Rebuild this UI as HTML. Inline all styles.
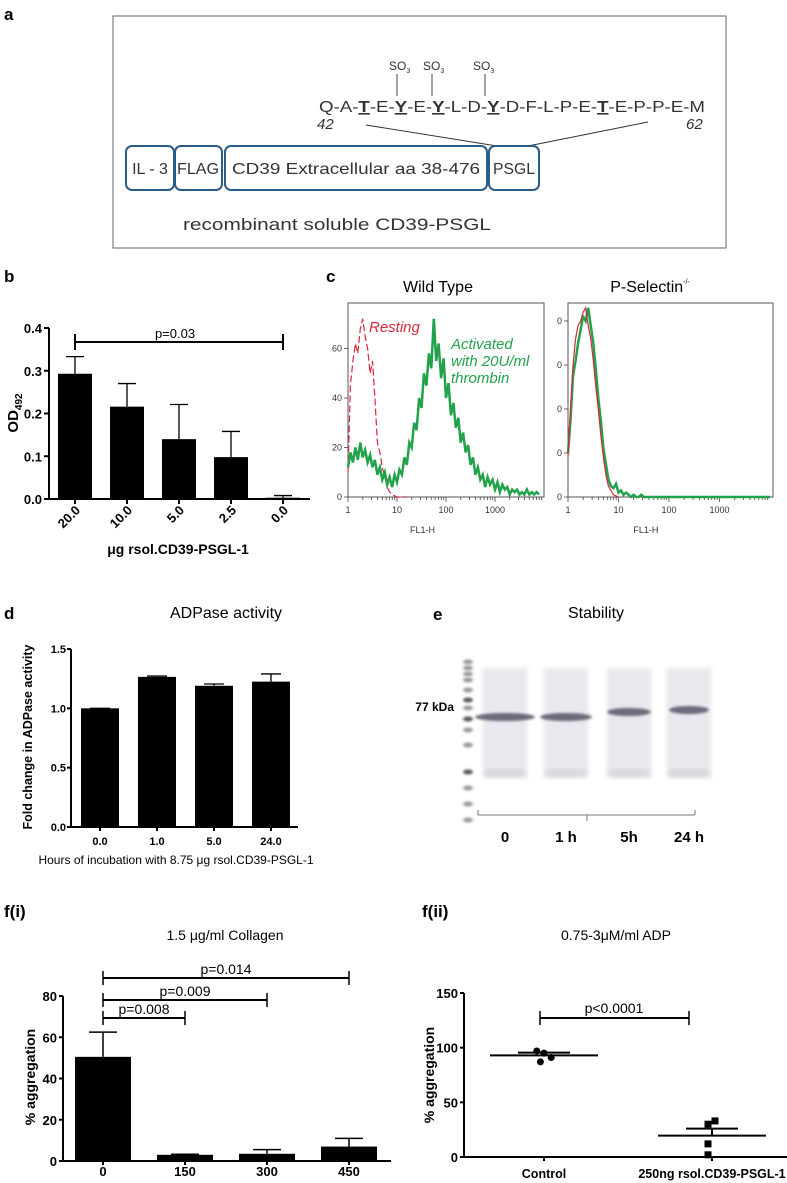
<!DOCTYPE html>
<html><head><meta charset="utf-8"><style>
html,body{margin:0;padding:0;background:#fff}
svg{display:block;font-family:"Liberation Sans",sans-serif}
</style></head><body>
<svg id="fig" width="787" height="1183" viewBox="0 0 787 1183" xmlns="http://www.w3.org/2000/svg">
<defs><filter id="blur" x="-50%" y="-50%" width="200%" height="200%"><feGaussianBlur stdDeviation="2.5"/></filter>
<filter id="blur2" x="-50%" y="-50%" width="200%" height="200%"><feGaussianBlur stdDeviation="1.2"/></filter></defs>
<!-- Panel a -->
<g>
<text x="4" y="20" font-size="17" font-weight="bold">a</text>
<rect x="113" y="16" width="613" height="232" fill="none" stroke="#666" stroke-width="1"/>
<g font-size="12" fill="#333">
<text x="389" y="70">SO<tspan font-size="7" dy="3">3</tspan></text>
<text x="423" y="70">SO<tspan font-size="7" dy="3">3</tspan></text>
<text x="473" y="70">SO<tspan font-size="7" dy="3">3</tspan></text>
</g>
<g stroke="#444" stroke-width="1"><line x1="397" y1="74" x2="397" y2="96"/><line x1="432" y1="74" x2="432" y2="96"/><line x1="485" y1="74" x2="485" y2="96"/></g>
<text x="319" y="112" font-size="16" fill="#333" textLength="386" lengthAdjust="spacingAndGlyphs">Q-A-<tspan font-weight="bold" text-decoration="underline">T</tspan>-E-<tspan font-weight="bold" text-decoration="underline">Y</tspan>-E-<tspan font-weight="bold" text-decoration="underline">Y</tspan>-L-D-<tspan font-weight="bold" text-decoration="underline">Y</tspan>-D-F-L-P-E-<tspan font-weight="bold" text-decoration="underline">T</tspan>-E-P-P-E-M</text>
<text x="317" y="129" font-size="15" font-style="italic" fill="#333">42</text>
<text x="686" y="129" font-size="15" font-style="italic" fill="#333">62</text>
<g stroke="#333" stroke-width="1"><line x1="366" y1="125" x2="497" y2="146"/><line x1="648" y1="122" x2="528" y2="146"/></g>
<g fill="none" stroke="#2b5b87" stroke-width="2">
<rect x="126" y="146" width="48" height="44" rx="6"/>
<rect x="175" y="146" width="47" height="44" rx="6"/>
<rect x="225" y="146" width="262" height="44" rx="6"/>
<rect x="489" y="146" width="50" height="44" rx="6"/>
</g>
<g font-size="16" fill="#333">
<text x="150" y="174" text-anchor="middle">IL - 3</text>
<text x="198" y="174" text-anchor="middle" textLength="42" lengthAdjust="spacingAndGlyphs">FLAG</text>
<text x="356" y="174" text-anchor="middle" textLength="248" lengthAdjust="spacingAndGlyphs">CD39 Extracellular  aa 38-476</text>
<text x="514" y="174" text-anchor="middle" textLength="42" lengthAdjust="spacingAndGlyphs">PSGL</text>
<text x="183" y="230" font-size="17" textLength="308" lengthAdjust="spacingAndGlyphs">recombinant soluble CD39-PSGL</text>
</g>
</g>
<!-- labels -->
<text x="4" y="282" font-size="17" font-weight="bold">b</text>
<text x="326" y="282" font-size="17" font-weight="bold">c</text>
<text x="438" y="292" font-size="16" text-anchor="middle">Wild Type</text>
<text x="650" y="292" font-size="16" text-anchor="middle">P-Selectin<tspan font-size="7" dy="-8">-/-</tspan></text>
<text x="4" y="619" font-size="17" font-weight="bold">d</text>
<text x="226" y="618" font-size="16" text-anchor="middle">ADPase activity</text>
<text x="433" y="620" font-size="17" font-weight="bold">e</text>
<text x="596" y="618" font-size="16" text-anchor="middle">Stability</text>
<text x="4" y="917" font-size="17" font-weight="bold">f(i)</text>
<text x="422" y="917" font-size="17" font-weight="bold">f(ii)</text>
<text x="225" y="940" font-size="14" text-anchor="middle">1.5 μg/ml Collagen</text>
<text x="616" y="940" font-size="14" text-anchor="middle">0.75-3μM/ml ADP</text>
<g id="dyn"></g>
</svg>
<script>
// ---- data ----
const bCats = ["20.0","10.0","5.0","2.5","0.0"];
const bVals = [0.293,0.216,0.140,0.098,0.003];
const bErr = [0.333,0.270,0.221,0.158,0.008];
const bTicks = [0,0.1,0.2,0.3,0.4];
const wtGreen = [12,18,14,20,15,22,16,19,14,17,12,15,9,12,7,10,5,8,4,9,6,11,9,16,13,22,20,30,27,40,36,50,45,58,52,72,55,62,48,56,40,46,33,38,28,32,22,26,18,21,13,16,9,12,7,9,4,8,5,7,3,6,2,5,3,4,1,3,2,3,1,2,1,3,1,2,1,2,1];
const wtRed = [10,45,55,62,58,68,72,65,60,50,55,40,22,18,12,8,4,2,1,0.5,0,0,0,0,0];
const psGreen = [20,35,55,62,70,76,82,80,86,78,70,58,45,35,22,15,8,5,4,6,2,3,1,2,1,0,1,0,0,1,0,0,0,0,0,0,0,0,0,0,0,0,0,0,0,0,0,0,0,0,0,0,0,0,0,0,0,0,0,0,0,0,0,0,0,0,0,0,0,0,0,0,0,0,0,0,0,0,0,0,0];
const psRed = [18,40,60,72,78,80,84,86,78,72,62,50,40,28,18,10,5,3,1,0.5,0];
const flowTicksY = [0,20,40,60];
const flowTicksX = ["1","10","100","1000"];
const dCats = ["0.0","1.0","5.0","24.0"];
const dVals = [1.0,1.265,1.19,1.225];
const dErr = [1.0,1.272,1.205,1.29];
const dTicks = [0,0.5,1.0,1.5];
const gelLanes = ["0","1 h","5h","24 h"];
const fiCats = ["0","150","300","450"];
const fiVals = [50.5,3,3.5,7];
const fiErr = [62.5,3.3,5.5,11];
const fiTicks = [0,20,40,60,80];
const fiiCats = ["Control","250ng rsol.CD39-PSGL-1"];
const fiiCtrl = [97,95,91,87];
const fiiTreat = [33,30,12,2];
const fiiMean = [93,19.5];
const fiiSem = [95.5,26];
const fiiTicks = [0,50,100,150];

const NS="http://www.w3.org/2000/svg";
const root=document.getElementById('dyn');
function mk(tag,a,parent){const e=document.createElementNS(NS,tag);for(const k in a)e.setAttribute(k,a[k]);(parent||root).appendChild(e);return e;}
function txt(s,a,parent){const e=mk('text',a,parent);e.textContent=s;return e;}

// ---- Panel b ----
(function(){
 const y=v=>499-v/0.4*171, x0=49, xr=310, step=52, first=75;
 const xc=i=>first+i*step;
 let e=mk('line',{x1:x0,y1:499,x2:xr,y2:499,stroke:'#000','stroke-width':2});
 
 
 e=mk('line',{x1:x0,y1:y(0.4),x2:x0,y2:500,stroke:'#000','stroke-width':2});
 
 
 bTicks.forEach(t=>{mk('line',{x1:x0-5,y1:y(t),x2:x0,y2:y(t),stroke:'#000','stroke-width':2});
  const l=txt(t.toFixed(1),{x:x0-7,y:y(t)+5,'font-size':13,'font-weight':'bold','text-anchor':'end'});
  
  });
 bCats.forEach((c,i)=>{
  const b=mk('rect',{x:xc(i)-17,y:y(bVals[i]),width:34,height:499-y(bVals[i]),fill:'#000'});
  
  
  mk('line',{x1:xc(i),y1:y(bVals[i]),x2:xc(i),y2:y(bErr[i]),stroke:'#000','stroke-width':1.3});
  mk('line',{x1:xc(i)-9,y1:y(bErr[i]),x2:xc(i)+9,y2:y(bErr[i]),stroke:'#000','stroke-width':1.3});
  mk('line',{x1:xc(i),y1:499,x2:xc(i),y2:504,stroke:'#000','stroke-width':2});
  const l=txt(c,{x:xc(i)+6,y:511,'font-size':13,'font-weight':'bold','text-anchor':'end',transform:`rotate(-45 ${xc(i)+6} 511)`});
  
  
 });
 mk('line',{x1:xc(0),y1:342,x2:xc(4),y2:342,stroke:'#000','stroke-width':2});
 mk('line',{x1:xc(0),y1:334,x2:xc(0),y2:350,stroke:'#000','stroke-width':2});
 mk('line',{x1:xc(4),y1:334,x2:xc(4),y2:350,stroke:'#000','stroke-width':2});
 e=txt('p=0.03',{x:175,y:338,'font-size':13,'text-anchor':'middle'});
 
 
 e=txt('μg rsol.CD39-PSGL-1',{x:178,y:554,'font-size':14,'font-weight':'bold','text-anchor':'middle'});
 
 
 e=mk('text',{x:0,y:0,'font-size':15,'font-weight':'bold','text-anchor':'middle',transform:'translate(18 413) rotate(-90)'});
 e.innerHTML='OD<tspan font-size="10" dy="4">492</tspan>';
 
 
})();

// ---- Panel c ----
function flowPlot(L,R,perDec,yPer20,series,ticksLab,name){
 const top=303,bot=497;
 const g=mk('g',{});
 
 
 mk('rect',{x:L,y:top,width:R-L,height:bot-top,fill:'none',stroke:'#555','stroke-width':1},g);
 const X=lg=>L+lg*perDec, Y=v=>bot-v/20*yPer20;
 for(let d=0;d<4;d++){for(let k=1;k<10;k++){const xx=X(d+Math.log10(k));if(xx>R)break;mk('line',{x1:xx,y1:bot,x2:xx,y2:bot+(k==1?5:3),stroke:'#444','stroke-width':0.8},g);}}
 flowTicksX.forEach((t,i)=>{const l=txt(t,{x:X(i),y:513,'font-size':9,'text-anchor':'middle',fill:'#333'},g);
  
  });
 flowTicksY.concat([80]).forEach((t,i)=>{if(Y(t)<top)return;mk('line',{x1:L-4,y1:Y(t),x2:L,y2:Y(t),stroke:'#444','stroke-width':0.8},g);
  const l=txt(ticksLab?String(t):'0',{x:L-6,y:Y(t)+3,'font-size':9,'text-anchor':'end',fill:'#333'},g);
  
  });
 series.forEach(s=>{
  const pts=s.v.map((v,i)=>X(i*0.05).toFixed(1)+','+Y(v).toFixed(1)).join(' ');
  const p=mk('polyline',{points:pts,fill:'none',stroke:s.c,'stroke-width':s.w,'stroke-dasharray':s.d||'none'},g);
  
  
 });
 const t=txt('FL1-H',{x:(L+R)/2-(R-L)*0.12,y:533,'font-size':9,'text-anchor':'middle',fill:'#333'},g);
 
 
}
flowPlot(348,544,49,49.5,[{v:wtRed,c:'#d8283c',w:1.2,d:'7 3',n:'resting-curve'},{v:wtGreen,c:'#22a24a',w:2.5,n:'activated-curve'}],true,'wild-type-histogram');
flowPlot(568,773,50.5,44,[{v:psGreen,c:'#22a24a',w:2.5,n:'ps-activated-curve'},{v:psRed,c:'#d8283c',w:1.2,n:'ps-resting-curve'}],false,'pselectin-histogram');
(function(){
 let e=txt('Resting',{x:369,y:332,'font-size':15,'font-style':'italic',fill:'#d8283c'});
 
 
 [['Activated',349],['with 20U/ml',366],['thrombin',383]].forEach(a=>{
  const l=txt(a[0],{x:451,y:a[1],'font-size':15,'font-style':'italic',fill:'#22a24a'});
  
  });
})();

// ---- Panel d ----
(function(){
 const x0=71,bot=827,y=v=>bot-v/1.5*178, step=57, first=100;
 const xc=i=>first+i*step;
 let e=mk('line',{x1:x0,y1:bot,x2:298,y2:bot,stroke:'#000','stroke-width':2});
 
 
 e=mk('line',{x1:x0,y1:y(1.5),x2:x0,y2:bot,stroke:'#000','stroke-width':2});
 
 
 dTicks.forEach(t=>{mk('line',{x1:x0-4,y1:y(t),x2:x0,y2:y(t),stroke:'#000','stroke-width':2});
  const l=txt(t.toFixed(1),{x:x0-5,y:y(t)+4,'font-size':11,'font-weight':'bold','text-anchor':'end'});
  
  });
 dCats.forEach((c,i)=>{
  const b=mk('rect',{x:xc(i)-19,y:y(dVals[i]),width:38,height:bot-y(dVals[i]),fill:'#000'});
  
  
  mk('line',{x1:xc(i),y1:y(dVals[i]),x2:xc(i),y2:y(dErr[i]),stroke:'#000','stroke-width':1.3});
  mk('line',{x1:xc(i)-10,y1:y(dErr[i]),x2:xc(i)+10,y2:y(dErr[i]),stroke:'#000','stroke-width':1.3});
  mk('line',{x1:xc(i),y1:bot,x2:xc(i),y2:bot+4,stroke:'#000','stroke-width':2});
  const l=txt(c,{x:xc(i),y:845,'font-size':11,'font-weight':'bold','text-anchor':'middle'});
  
  
 });
 e=txt('Hours of incubation with 8.75 μg rsol.CD39-PSGL-1',{x:176,y:864,'font-size':12,'text-anchor':'middle'});
 
 
 e=txt('Fold change in ADPase activity',{x:0,y:0,'font-size':12.5,'font-weight':'bold','text-anchor':'middle',transform:'translate(32 737) rotate(-90)'});
 
 
})();

// ---- Panel e (gel) ----
(function(){
 const g=mk('g',{});
 
 
 [662,668,674,680,690,700,708,719,730,745,772,788,804,820].forEach((yy,i)=>{
  mk('ellipse',{cx:468,cy:yy,rx:5,ry:2.5,fill:i==10||i==5||i==7?'#555':'#999',filter:'url(#blur2)'},g);});
 const cx=[505,566,629,689], by=[717,717,712,710], bw=[30,26,22,20];
 gelLanes.forEach((l,i)=>{
  mk('rect',{x:cx[i]-22,y:668,width:44,height:110,fill:'#e8e8ee',filter:'url(#blur)'},g);
  mk('rect',{x:cx[i]-20,y:770,width:40,height:6,fill:'#d4d4dc',filter:'url(#blur)'},g);
  const b=mk('ellipse',{cx:cx[i],cy:by[i],rx:bw[i],ry:4,fill:'#6a6a7a',filter:'url(#blur2)'},g);
  
  
  const t=txt(l,{x:cx[i],y:842,'font-size':15,'font-weight':'bold','text-anchor':'middle'});
  
  
 });
 mk('line',{x1:478,y1:815,x2:695,y2:815,stroke:'#777','stroke-width':1},g);
 mk('line',{x1:478,y1:810,x2:478,y2:815,stroke:'#777'},g);
 mk('line',{x1:695,y1:810,x2:695,y2:815,stroke:'#777'},g);
 mk('line',{x1:587,y1:815,x2:587,y2:821,stroke:'#777'},g);
 const k=txt('77 kDa',{x:454,y:711,'font-size':12,'font-weight':'bold','text-anchor':'end'});
 
 
})();

// ---- Panel f(i) ----
(function(){
 const x0=63,bot=1161,y=v=>bot-v/80*165, step=82, first=103;
 const xc=i=>first+i*step;
 let e=mk('line',{x1:x0,y1:bot,x2:391,y2:bot,stroke:'#000','stroke-width':2});
 
 
 e=mk('line',{x1:x0,y1:y(80),x2:x0,y2:bot,stroke:'#000','stroke-width':2});
 
 
 fiTicks.forEach(t=>{mk('line',{x1:x0-4,y1:y(t),x2:x0,y2:y(t),stroke:'#000','stroke-width':2});
  const l=txt(String(t),{x:x0-6,y:y(t)+5,'font-size':13,'font-weight':'bold','text-anchor':'end'});
  
  });
 fiCats.forEach((c,i)=>{
  const b=mk('rect',{x:xc(i)-28,y:y(fiVals[i]),width:56,height:bot-y(fiVals[i]),fill:'#000'});
  
  
  mk('line',{x1:xc(i),y1:y(fiVals[i]),x2:xc(i),y2:y(fiErr[i]),stroke:'#000','stroke-width':1.5});
  mk('line',{x1:xc(i)-14,y1:y(fiErr[i]),x2:xc(i)+14,y2:y(fiErr[i]),stroke:'#000','stroke-width':1.5});
  mk('line',{x1:xc(i),y1:bot,x2:xc(i),y2:bot+4,stroke:'#000','stroke-width':2});
  const l=txt(c,{x:xc(i),y:1176,'font-size':13,'font-weight':'bold','text-anchor':'middle'});
  
  
 });
 [['p=0.014',3,978],['p=0.009',2,1000],['p=0.008',1,1018]].forEach(p=>{
  mk('line',{x1:xc(0),y1:p[2],x2:xc(p[1]),y2:p[2],stroke:'#000','stroke-width':2});
  mk('line',{x1:xc(0),y1:p[2]-7,x2:xc(0),y2:p[2]+7,stroke:'#000','stroke-width':1.5});
  mk('line',{x1:xc(p[1]),y1:p[2]-7,x2:xc(p[1]),y2:p[2]+7,stroke:'#000','stroke-width':1.5});
  const l=txt(p[0],{x:(xc(0)+xc(p[1]))/2,y:p[2]-4,'font-size':14,'text-anchor':'middle'});
  
  
 });
 e=txt('% aggregation',{x:0,y:0,'font-size':14,'font-weight':'bold','text-anchor':'middle',transform:'translate(35 1077) rotate(-90)'});
 
 
})();

// ---- Panel f(ii) ----
(function(){
 const x0=464,bot=1157,y=v=>bot-v/150*164;
 const xc=[544,712];
 let e=mk('line',{x1:x0,y1:bot,x2:787,y2:bot,stroke:'#000','stroke-width':2});
 
 
 e=mk('line',{x1:x0,y1:y(150),x2:x0,y2:bot,stroke:'#000','stroke-width':2});
 
 
 fiiTicks.forEach(t=>{mk('line',{x1:x0-4,y1:y(t),x2:x0,y2:y(t),stroke:'#000','stroke-width':2});
  const l=txt(String(t),{x:x0-6,y:y(t)+5,'font-size':13,'font-weight':'bold','text-anchor':'end'});
  
  });
 fiiCats.forEach((c,i)=>{
  mk('line',{x1:xc[i],y1:bot,x2:xc[i],y2:bot+4,stroke:'#000','stroke-width':2});
  const l=txt(c,{x:xc[i],y:1178,'font-size':12.5,'font-weight':'bold','text-anchor':'middle'});
  
  
  const m=mk('line',{x1:xc[i]-54,y1:y(fiiMean[i]),x2:xc[i]+54,y2:y(fiiMean[i]),stroke:'#000','stroke-width':2});
  
  
  mk('line',{x1:xc[i]-26,y1:y(fiiSem[i]),x2:xc[i]+26,y2:y(fiiSem[i]),stroke:'#000','stroke-width':2});
  mk('line',{x1:xc[i],y1:y(fiiSem[i]),x2:xc[i],y2:y(fiiMean[i]),stroke:'#000','stroke-width':2});
 });
 const dx=[-6,0,6,-3];
 fiiCtrl.forEach((v,j)=>{const c=mk('circle',{cx:xc[0]+dx[j]*1.2,cy:y(v),r:3.5,fill:'#000'});
  
  });
 const dx2=[3,-4,-4,-4];
 fiiTreat.forEach((v,j)=>{const c=mk('rect',{x:xc[1]+dx2[j]-3.5,y:y(v)-3.5,width:7,height:7,fill:'#000'});
  
  });
 mk('line',{x1:540,y1:1018,x2:689,y2:1018,stroke:'#000','stroke-width':2});
 mk('line',{x1:540,y1:1011,x2:540,y2:1025,stroke:'#000','stroke-width':1.5});
 mk('line',{x1:689,y1:1011,x2:689,y2:1025,stroke:'#000','stroke-width':1.5});
 e=txt('p<0.0001',{x:614,y:1013,'font-size':14,'text-anchor':'middle'});
 
 
 e=txt('% aggregation',{x:0,y:0,'font-size':14,'font-weight':'bold','text-anchor':'middle',transform:'translate(434 1075) rotate(-90)'});
 
 
})();
</script>
</body></html>
